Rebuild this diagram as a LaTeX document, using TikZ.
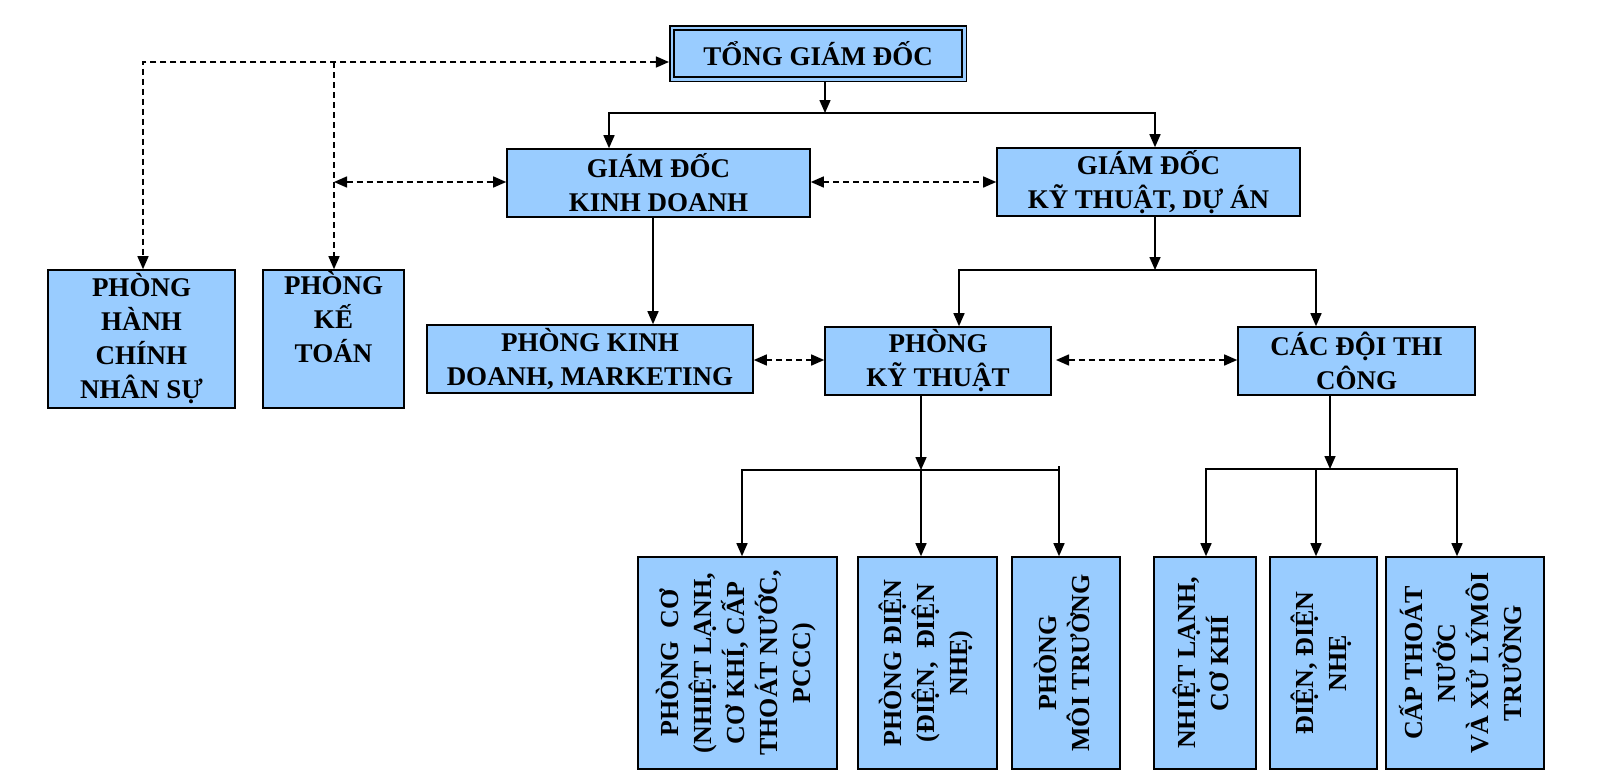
\documentclass[tikz,border=0pt]{standalone}
\usepackage{fontspec}
\setmainfont{Liberation Serif}
\usetikzlibrary{arrows.meta}
\definecolor{boxblue}{RGB}{153,204,255}
\begin{document}
\begin{tikzpicture}[x=1pt,y=-1pt,
  box/.style={draw=black, fill=boxblue, line width=1.6pt, align=center, inner sep=0pt,
    font=\bfseries\fontsize{27}{34}\selectfont},
  vbox/.style={box, font=\bfseries\fontsize{26}{33}\selectfont},
  topbox/.style={box, double=boxblue, double distance=2.5pt, outer sep=2.8pt},
  conn/.style={line width=1.5pt, -{Triangle[length=13pt,width=11pt]}},
  conn2/.style={line width=1.5pt, {Triangle[length=13pt,width=11pt]}-{Triangle[length=13pt,width=11pt]}},
  dconn/.style={conn, dash pattern=on 6pt off 4pt},
  dconn2/.style={conn2, dash pattern=on 6pt off 4pt}
]
\useasboundingbox (0,0) rectangle (1601,771);
\fill[white] (0,0) rectangle (1601,771);

% boxes
\node[topbox, minimum width=292.5pt, minimum height=51.5pt] (tgd) at (818,53.5) {TỔNG GIÁM ĐỐC};
\node[box, minimum width=303pt, minimum height=68pt] (kd) at (658.5,183) {GIÁM ĐỐC\\KINH DOANH};
\node[box, minimum width=303pt, minimum height=68pt] (kt) at (1148.5,182) {GIÁM ĐỐC\\KỸ THUẬT, DỰ ÁN};
\node[box, minimum width=187pt, minimum height=138pt] (phc) at (141.5,339) {PHÒNG\\HÀNH\\CHÍNH\\NHÂN SỰ};
\node[box, minimum width=141pt, minimum height=138pt] (pkto) at (333.5,339) {PHÒNG\\KẾ\\TOÁN\\\strut};
\node[box, minimum width=326pt, minimum height=68pt] (pkd) at (590,359) {PHÒNG KINH\\DOANH, MARKETING};
\node[box, minimum width=226pt, minimum height=68pt] (pkt) at (938,361) {PHÒNG\\KỸ THUẬT};
\node[box, minimum width=237pt, minimum height=68pt] (cdtc) at (1356.5,361) {CÁC ĐỘI THI\\CÔNG};

\node[vbox, minimum width=199pt, minimum height=212pt] (pco) at (737.5,663)
  {\rotatebox{90}{\begin{tabular}{@{}c@{}}PHÒNG\ \ CƠ\\(NHIỆT LẠNH,\\CƠ KHÍ, CẤP\\THOÁT NƯỚC,\\PCCC)\end{tabular}}};
\node[vbox, minimum width=139pt, minimum height=212pt] (pdien) at (927.5,663)
  {\rotatebox{90}{\begin{tabular}{@{}c@{}}PHÒNG ĐIỆN\\(ĐIỆN,\ \ ĐIỆN\\NHẸ)\end{tabular}}};
\node[vbox, minimum width=108pt, minimum height=212pt] (pmt) at (1066,663)
  {\rotatebox{90}{\begin{tabular}{@{}c@{}}PHÒNG\\MÔI TRƯỜNG\end{tabular}}};
\node[vbox, minimum width=102pt, minimum height=212pt] (nl) at (1205,663)
  {\rotatebox{90}{\begin{tabular}{@{}c@{}}NHIỆT LẠNH,\\CƠ KHÍ\end{tabular}}};
\node[vbox, minimum width=107pt, minimum height=212pt] (dn) at (1323.5,663)
  {\rotatebox{90}{\begin{tabular}{@{}c@{}}ĐIỆN, ĐIỆN\\NHẸ\end{tabular}}};
\node[vbox, minimum width=158pt, minimum height=212pt] (ctn) at (1465,663)
  {\rotatebox{90}{\begin{tabular}{@{}c@{}}CẤP THOÁT\\NƯỚC\\VÀ XỬ LÝMÔI\\TRƯỜNG\end{tabular}}};

% solid tree connectors
\coordinate (t1) at (825,113);
\coordinate (t1l) at (609,113);
\coordinate (t1r) at (1155,113);
\draw[conn] (tgd.south -| t1) -- (t1);
\draw[conn2] (kd.north -| t1l) -- (t1l) -- (t1r) -- (kt.north -| t1r);

\coordinate (k1) at (653,300);
\draw[conn] (kd.south -| k1) -- (pkd.north -| k1);

\coordinate (t2) at (1155,270);
\coordinate (t2l) at (959,270);
\coordinate (t2r) at (1316,270);
\draw[conn] (kt.south -| t2) -- (t2);
\draw[conn2] (pkt.north -| t2l) -- (t2l) -- (t2r) -- (cdtc.north -| t2r);

\coordinate (t3) at (921,470);
\coordinate (t3l) at (742,470);
\coordinate (t3r) at (1059,470);
\coordinate (t3u) at (1059,466);
\draw[conn] (pkt.south -| t3) -- (t3);
\draw[conn2] (pco.north -| t3l) -- (t3l) -- (t3r) -- (pmt.north -| t3r);
\draw[line width=1.5pt] (t3u) -- (t3r);
\draw[conn] (t3) -- (pdien.north -| t3);

\coordinate (t4) at (1330,469);
\coordinate (t4l) at (1206,469);
\coordinate (t4m) at (1316,469);
\coordinate (t4r) at (1457,469);
\draw[conn] (cdtc.south -| t4) -- (t4);
\draw[conn2] (nl.north -| t4l) -- (t4l) -- (t4r) -- (ctn.north -| t4r);
\draw[conn] (t4m) -- (dn.north -| t4m);

% dashed connectors
\coordinate (d0) at (143,62);
\coordinate (d1) at (334,62);
\coordinate (d2) at (334,182);
\coordinate (d3) at (900,182);
\coordinate (d4) at (780,360);
\coordinate (d5) at (1056,360);
\draw[dconn2] (tgd.west |- d0) -- (d0) -- (phc.north -| d0);
\draw[dconn] (d1) -- (pkto.north -| d1);
\draw[dconn2] (d2) -- (kd.west |- d2);
\draw[dconn2] (kd.east |- d3) -- (kt.west |- d3);
\draw[dconn2] (pkd.east |- d4) -- (pkt.west |- d4);
\draw[dconn2] (d5) -- (cdtc.west |- d5);
\end{tikzpicture}
\end{document}
